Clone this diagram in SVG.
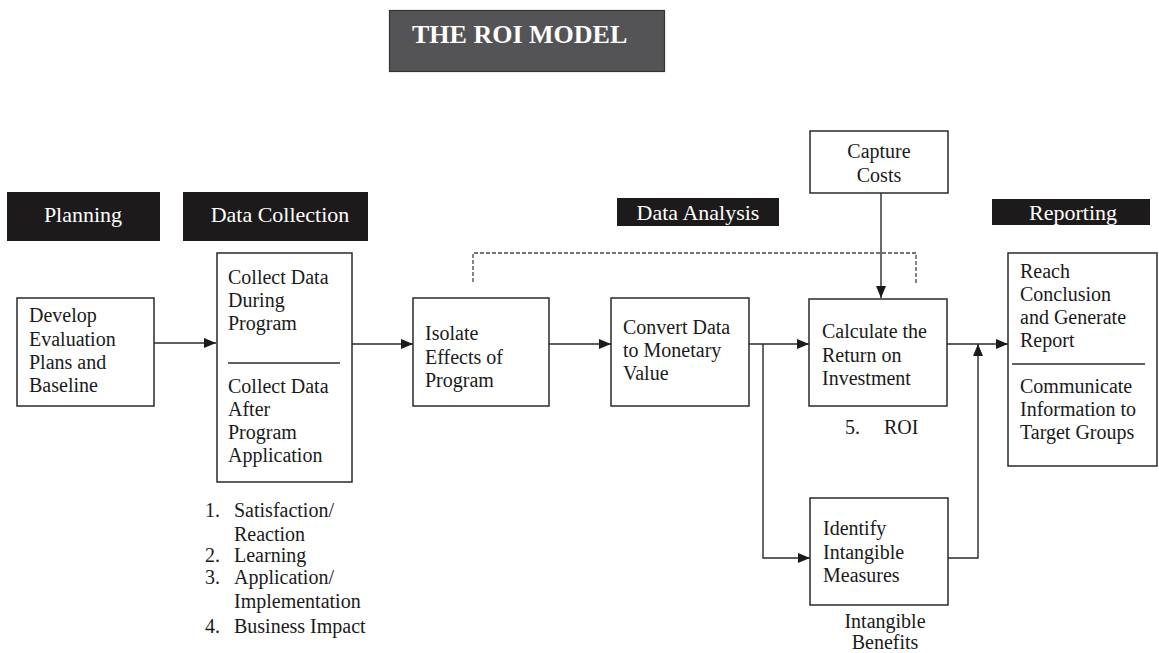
<svg xmlns="http://www.w3.org/2000/svg" width="1159" height="653" viewBox="0 0 1159 653">
  <style>
    .box { fill: #ffffff; stroke: #2a2a2a; stroke-width: 1.5; }
    .hdr { fill: #1c1a1a; }
    .hdr-t { font-family: "Liberation Serif", "DejaVu Serif", serif; font-size: 22px; fill: #ffffff; text-anchor: middle; }
    .t { font-family: "Liberation Serif", "DejaVu Serif", serif; font-size: 20px; fill: #1a1a1a; }
    .c { text-anchor: middle; }
    .ln { fill: none; stroke: #2a2a2a; stroke-width: 1.4; }
    .dash { fill: none; stroke: #444; stroke-width: 1.3; stroke-dasharray: 4 2; }
  </style>
  <defs>
    <marker id="ah" viewBox="0 0 12 10" refX="12" refY="5" markerWidth="12" markerHeight="10" markerUnits="userSpaceOnUse" orient="auto">
      <path d="M0,0 L12,5 L0,10 Z" fill="#1a1a1a"/>
    </marker>
  </defs>

  <rect width="1159" height="653" fill="#ffffff"/>

  <!-- title -->
  <g id="title">
    <rect x="389.5" y="10.5" width="275" height="61" fill="#545456" stroke="#333" stroke-width="1.2"/>
    <text x="412" y="43" font-family="'Liberation Serif', 'DejaVu Serif', serif" font-size="26" font-weight="bold" fill="#ffffff">THE ROI MODEL</text>
  </g>

  <!-- phase headers -->
  <g id="hdr-planning">
    <rect class="hdr" x="7" y="192" width="153" height="49"/>
    <text class="hdr-t" x="83" y="222">Planning</text>
  </g>
  <g id="hdr-collection">
    <rect class="hdr" x="183" y="192" width="185" height="49"/>
    <text class="hdr-t" x="280" y="222">Data Collection</text>
  </g>
  <g id="hdr-analysis">
    <rect class="hdr" x="617" y="198" width="162" height="28"/>
    <text class="hdr-t" x="698" y="220">Data Analysis</text>
  </g>
  <g id="hdr-reporting">
    <rect class="hdr" x="992" y="199" width="158" height="26"/>
    <text class="hdr-t" x="1073" y="220">Reporting</text>
  </g>

  <!-- connectors -->
  <g id="connectors">
    <line class="ln" x1="154" y1="343" x2="216" y2="343" marker-end="url(#ah)"/>
    <line class="ln" x1="352" y1="344" x2="413" y2="344" marker-end="url(#ah)"/>
    <line class="ln" x1="549" y1="344" x2="611" y2="344" marker-end="url(#ah)"/>
    <line class="ln" x1="749" y1="344" x2="809" y2="344" marker-end="url(#ah)"/>
    <polyline class="ln" points="763,344 763,558 810,558" marker-end="url(#ah)"/>
    <polyline class="ln" points="948,558 978,558 978,344" marker-end="url(#ah)"/>
    <line class="ln" x1="947" y1="344" x2="1008" y2="344" marker-end="url(#ah)"/>
    <line class="ln" x1="881" y1="193" x2="881" y2="298" marker-end="url(#ah)"/>
    <polyline class="dash" points="473,282 473,253 916,253 916,283"/>
  </g>

  <!-- nodes -->
  <g id="n-develop">
    <rect class="box" x="17" y="298" width="137" height="108"/>
    <text class="t" x="29" y="322">Develop</text>
    <text class="t" x="29" y="346">Evaluation</text>
    <text class="t" x="29" y="369">Plans and</text>
    <text class="t" x="29" y="392">Baseline</text>
  </g>

  <g id="n-collect">
    <rect class="box" x="217" y="253" width="135" height="229"/>
    <text class="t" x="228" y="284">Collect Data</text>
    <text class="t" x="228" y="307">During</text>
    <text class="t" x="228" y="330">Program</text>
    <line class="ln" x1="228" y1="363" x2="340" y2="363"/>
    <text class="t" x="228" y="393">Collect Data</text>
    <text class="t" x="228" y="416">After</text>
    <text class="t" x="228" y="439">Program</text>
    <text class="t" x="228" y="462">Application</text>
  </g>

  <g id="levels">
    <text class="t" x="205" y="517">1.</text>
    <text class="t" x="234" y="517">Satisfaction/</text>
    <text class="t" x="234" y="541">Reaction</text>
    <text class="t" x="205" y="562">2.</text>
    <text class="t" x="234" y="562">Learning</text>
    <text class="t" x="205" y="584">3.</text>
    <text class="t" x="234" y="584">Application/</text>
    <text class="t" x="234" y="608">Implementation</text>
    <text class="t" x="205" y="633">4.</text>
    <text class="t" x="234" y="633">Business Impact</text>
  </g>

  <g id="n-isolate">
    <rect class="box" x="413" y="298" width="136" height="108"/>
    <text class="t" x="425" y="340">Isolate</text>
    <text class="t" x="425" y="364">Effects of</text>
    <text class="t" x="425" y="387">Program</text>
  </g>

  <g id="n-convert">
    <rect class="box" x="611" y="298" width="138" height="108"/>
    <text class="t" x="623" y="334">Convert Data</text>
    <text class="t" x="623" y="357">to Monetary</text>
    <text class="t" x="623" y="380">Value</text>
  </g>

  <g id="n-costs">
    <rect class="box" x="810" y="131" width="138" height="62"/>
    <text class="t c" x="879" y="158">Capture</text>
    <text class="t c" x="879" y="182">Costs</text>
  </g>

  <g id="n-roi">
    <rect class="box" x="809" y="299" width="138" height="107"/>
    <text class="t" x="822" y="338">Calculate the</text>
    <text class="t" x="822" y="362">Return on</text>
    <text class="t" x="822" y="385">Investment</text>
    <text class="t" x="845" y="434">5.</text>
    <text class="t" x="884" y="434">ROI</text>
  </g>

  <g id="n-intangible">
    <rect class="box" x="810" y="498" width="138" height="107"/>
    <text class="t" x="823" y="535">Identify</text>
    <text class="t" x="823" y="559">Intangible</text>
    <text class="t" x="823" y="582">Measures</text>
    <text class="t c" x="885" y="628">Intangible</text>
    <text class="t c" x="885" y="649">Benefits</text>
  </g>

  <g id="n-report">
    <rect class="box" x="1008" y="253" width="149" height="213"/>
    <text class="t" x="1020" y="278">Reach</text>
    <text class="t" x="1020" y="301">Conclusion</text>
    <text class="t" x="1020" y="324">and Generate</text>
    <text class="t" x="1020" y="347">Report</text>
    <line class="ln" x1="1012" y1="364" x2="1145" y2="364"/>
    <text class="t" x="1020" y="393">Communicate</text>
    <text class="t" x="1020" y="416">Information  to</text>
    <text class="t" x="1020" y="439">Target Groups</text>
  </g>
</svg>
